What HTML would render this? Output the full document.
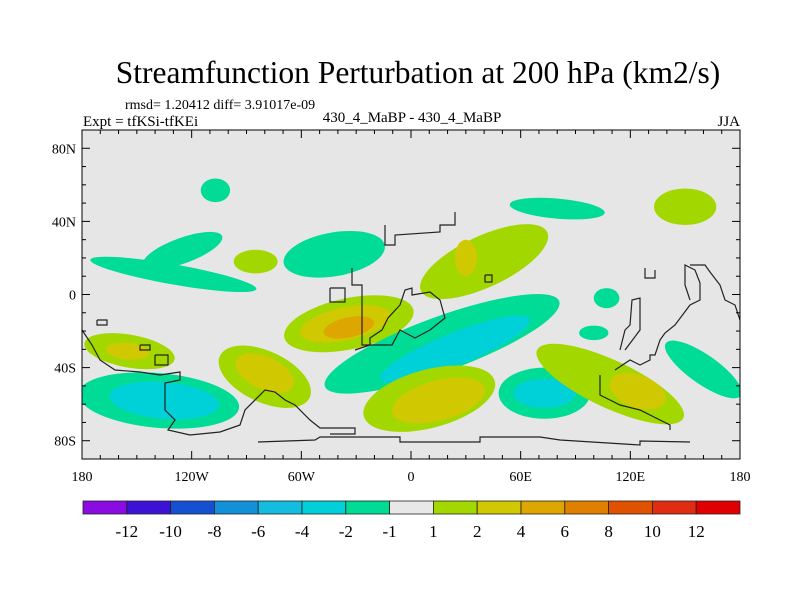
<!DOCTYPE html>
<html><head><meta charset="utf-8"><style>
body{margin:0;background:#fff;}
svg text{font-family:"Liberation Serif",serif;fill:#000;}
</style></head><body>
<svg id="chart" width="800" height="600" viewBox="0 0 800 600">
<text x="418" y="83" font-size="31.5" text-anchor="middle">Streamfunction Perturbation at 200 hPa (km2/s)</text>
<text x="125" y="109" font-size="14">rmsd= 1.20412 diff= 3.91017e-09</text>
<text x="83" y="126" font-size="15">Expt = tfKSi-tfKEi</text>
<text x="412" y="122" font-size="15" text-anchor="middle">430_4_MaBP - 430_4_MaBP</text>
<text x="740" y="126" font-size="15" text-anchor="end">JJA</text>
<defs><clipPath id="pc"><rect x="82" y="130" width="658" height="329"/></clipPath></defs>
<rect x="82" y="130" width="658" height="329" fill="#e6e6e6"/>
<g id="fills" clip-path="url(#pc)"></g>
<g id="coast" clip-path="url(#pc)" fill="none" stroke="#222" stroke-width="1.2"></g>
<rect x="82" y="130" width="658" height="329" fill="none" stroke="#000" stroke-width="1"/>
<g id="axes"></g>
<g id="colorbar"></g>
</svg>
<script>
const blobLon=[-107,80,150,-125,-85,-42,-130,-154,-155,-138,-135,-80,-80,-34,-36,-34,40,30,17,24,10,15,73,73,107,100,109,160,124];
const blobLat=[57,47,48,24,18,22,11,-31,-31,-58,-58,-45,-43,-16,-16,-18,18,20,-27,-30,-57,-58,-54,-54,-2,-21,-49,-41,-53];
const blobRx=[8,26,17,23,12,28,46,25,12,44,30,27,17,36,25,14,38,6,68,44,37,26,25,17,7,8,44,25,16];
const blobRy=[6.5,5.5,10,7,6.5,12,5.5,9,4.5,15,10,14,9,14,9,5.5,14,10,15,9,16,11,14,8,5.5,4,13,8,9];
const blobRot=[0,5,0,-20,0,-10,10,10,5,5,5,25,25,-12,-12,-12,-25,0,-20,-22,-15,-15,0,0,0,0,25,35,20];
const blobLevel=[-1,-1,1,-1,1,-1,-1,1,2,-1,-2,1,2,1,2,4,1,2,-1,-2,1,2,-1,-2,-1,-1,1,-1,2];

const cbLevels=[-12,-10,-8,-6,-4,-2,-1,1,2,4,6,8,10,12];
const cbColors=["#8a0ce2","#3c12d6","#1650d2","#1290d8","#14bde0","#00d0d8","#00dc96","#e8e8e8","#a2d800","#d0c800","#dea600","#e08000","#e05200","#e02c10","#e00000"];
const latTicks=[80,40,0,-40,-80];
const lonTicks=[-180,-120,-60,0,60,120,180];

const X0=82,X1=740,Y0=130,Y1=459;
const xOf=lon=>X0+(lon+180)/360*(X1-X0);
const yOf=lat=>Y0+(90-lat)/180*(Y1-Y0);
const NS="http://www.w3.org/2000/svg";
function mk(t,a,p){const e=document.createElementNS(NS,t);for(const k in a)e.setAttribute(k,a[k]);p.appendChild(e);return e;}
function colorFor(v){const i=cbLevels.indexOf(v);return v>0?cbColors[i+1]:cbColors[i];}

const fills=document.getElementById('fills');
for(let i=0;i<blobLon.length;i++){
 const cx=xOf(blobLon[i]),cy=yOf(blobLat[i]);
 const e=mk('ellipse',{cx:cx,cy:cy,rx:blobRx[i]*1.833,ry:blobRy[i]*1.825,fill:colorFor(blobLevel[i]),transform:`rotate(${blobRot[i]} ${cx} ${cy})`},fills);
 
 
}

const coastPts=[
"330,288 330,302 345,302 345,288 330,288",
"352,268 352,285 362,285 362,345 370,345 370,338 382,330 388,318 400,305 405,290 412,288 412,295 430,292 440,300 445,318 430,330 415,338 400,330 392,345 370,345 355,350",
"385,225 385,245 395,245 395,235 440,232 440,225 455,225 455,212",
"485,275 485,282 492,282 492,275 485,275",
"97,320 97,325 107,325 107,320 97,320",
"82,330 92,345 100,360 115,370 140,372 160,375 180,372 180,380 165,383 165,410 175,420 168,430 190,435 220,432 240,425 245,410 265,390 275,392 285,400 295,405 310,420 320,428 355,428 355,434 330,434",
"258,442 315,440 320,437 400,437 400,442 480,442 480,437 540,437 560,440 640,445 640,441 690,442",
"615,370 630,360 640,365 650,360 650,355 655,355 660,340 665,333 675,325 690,305 700,300 700,283 695,270 685,265 685,285 690,300",
"620,350 625,330 630,325 632,300 640,298 640,330 625,350",
"645,268 645,278 655,278 655,270",
"740,320 735,305 725,300 720,285 710,272 705,265 690,265",
"600,375 600,395 610,400 620,405 640,410 660,420 670,425 670,430",
"140,345 140,350 150,350 150,345 140,345",
"155,355 155,365 168,365 168,355 155,355"
];
const coast=document.getElementById('coast');
coastPts.forEach(p=>{const e=mk('polyline',{points:p},coast);
 
 });

const axes=document.getElementById('axes');
for(let lat=-90;lat<=90;lat+=10){const y=yOf(lat);const maj=lat%40===0&&Math.abs(lat)<=80;
 mk('line',{x1:X0,x2:X0+(maj?8:4),y1:y,y2:y,stroke:'#000'},axes);mk('line',{x1:X1,x2:X1-(maj?8:4),y1:y,y2:y,stroke:'#000'},axes);}
for(let lon=-180;lon<=180;lon+=10){const x=xOf(lon);const maj=lon%60===0;
 mk('line',{x1:x,x2:x,y1:Y1,y2:Y1-(maj?8:4),stroke:'#000'},axes);mk('line',{x1:x,x2:x,y1:Y0,y2:Y0+(maj?8:4),stroke:'#000'},axes);}
latTicks.forEach(l=>{const t=mk('text',{x:76,y:yOf(l)+5,'font-size':14,'text-anchor':'end'},axes);
 t.textContent=l===0?'0':(Math.abs(l)+(l>0?'N':'S'));
 
 });
lonTicks.forEach(l=>{const t=mk('text',{x:xOf(l),y:Y1+22,'font-size':14,'text-anchor':'middle'},axes);
 t.textContent=(Math.abs(l)===180||l===0)?String(Math.abs(l)):(Math.abs(l)+(l>0?'E':'W'));
 
 });

const cb=document.getElementById('colorbar');
const cbx0=83,cbx1=740,cby=501,cbh=13,bw=(cbx1-cbx0)/cbColors.length;
cbColors.forEach((c,i)=>{const r=mk('rect',{x:cbx0+i*bw,y:cby,width:bw,height:cbh,fill:c,stroke:'#222','stroke-width':0.8},cb);
 
 });
cbLevels.forEach((v,i)=>{const t=mk('text',{x:cbx0+(i+1)*bw,y:cby+36,'font-size':17,'text-anchor':'middle'},cb);
 t.textContent=String(v);
 
 });
</script>
</body></html>
